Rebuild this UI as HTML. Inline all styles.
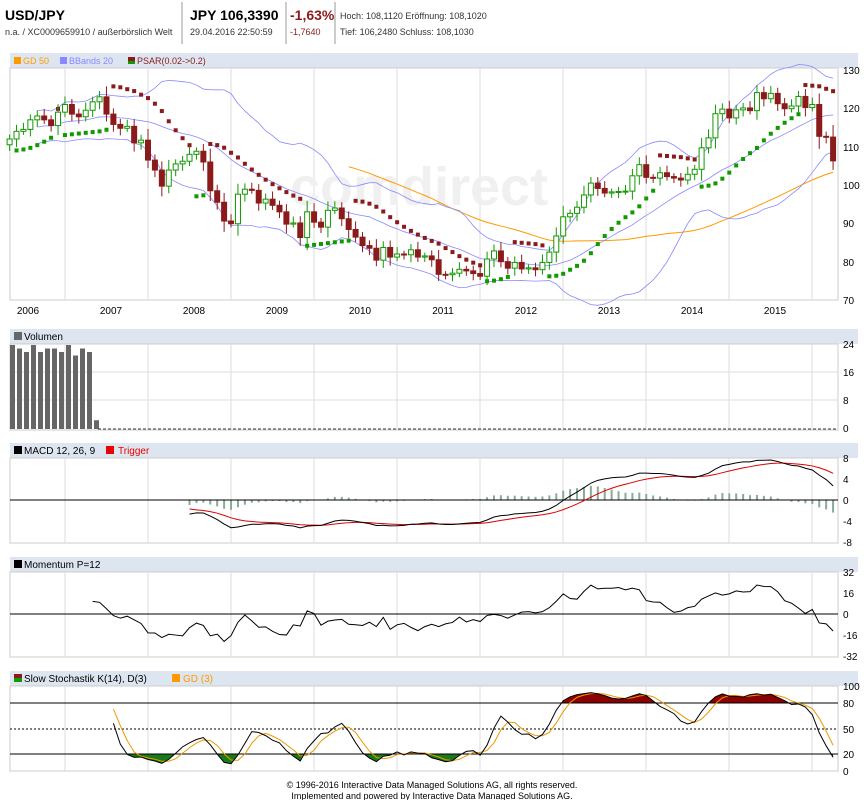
<!DOCTYPE html><html><head><meta charset="utf-8"><style>
body{margin:0;background:#fff;width:864px;height:800px;overflow:hidden;font-family:"Liberation Sans",Arial,sans-serif}
svg text{font-family:"Liberation Sans",Arial,sans-serif}
</style></head><body>
<svg id="s" width="864" height="800" xmlns="http://www.w3.org/2000/svg">
<text x="5" y="20" font-size="14" font-weight="bold" fill="#000">USD/JPY</text>
<text x="5" y="35" font-size="9" fill="#333">n.a. / XC0009659910 / außerbörslich Welt</text>
<line x1="182" y1="2" x2="182" y2="44" stroke="#999"/>
<text x="190" y="20" font-size="14" font-weight="bold" fill="#000">JPY 106,3390</text>
<text x="190" y="35" font-size="9" fill="#333">29.04.2016 22:50:59</text>
<line x1="286" y1="2" x2="286" y2="44" stroke="#999"/>
<text x="290" y="20" font-size="14" font-weight="bold" fill="#8b1a1a">-1,63%</text>
<text x="290" y="35" font-size="9" fill="#8b1a1a">-1,7640</text>
<line x1="335" y1="2" x2="335" y2="44" stroke="#999"/>
<text x="340" y="19" font-size="9" fill="#333">Hoch: 108,1120  Eröffnung: 108,1020</text>
<text x="340" y="35" font-size="9" fill="#333">Tief: 106,2480    Schluss: 108,1030</text>
<g id="g"></g>
<text x="432" y="788" font-size="9" fill="#000" text-anchor="middle">© 1996-2016 Interactive Data Managed Solutions AG, all rights reserved.</text>
<text x="432" y="799" font-size="9" fill="#000" text-anchor="middle">Implemented and powered by Interactive Data Managed Solutions AG.</text>
</svg>
<script>
var C=[112,114,114.5,117,118,117,115.5,119,121,118.5,117.8,119.5,121.7,123,118.5,115.8,114.8,115.3,111,111.7,106.5,103.9,99.7,103.9,105.5,106.2,108,108.8,106,98.5,95.5,90.6,89.9,97.6,98.9,98.6,95.3,96.3,94.7,93,89.8,90.1,86.3,93,90.3,89,93.4,94,91.2,88.4,86.4,84.2,83.5,80.4,83.7,81.2,82,81.8,83.1,81.2,81.5,80.5,76.7,76.6,77,78,77.6,76.9,76.2,80.7,82.8,80,78.3,79.8,78.1,78.4,77.9,79.8,82.5,86.7,91.7,92.6,94.2,97.4,100.5,99.1,97.9,98.2,98.3,98.4,102.4,105.3,102,101.8,103.2,102.2,101.8,101.3,102.8,104.1,109.7,112.3,118.6,119.8,117.5,119.6,120.1,119.4,124.1,122.5,123.9,121.2,119.9,120.6,123.1,120.2,121,112.7,112.5,106.3];
var N=C.length,O=[],H=[],L=[];
for(var i=0;i<N;i++){O[i]=i?C[i-1]:110.5;var r=Math.abs(C[i]-O[i]);H[i]=Math.max(O[i],C[i])+0.8+0.25*r+(i%3)*0.4;L[i]=Math.min(O[i],C[i])-0.8-0.25*r-((i+1)%3)*0.4;}
function X(i){return 9.6+i*6.92;}
var out=[];function a(s){out.push(s);}
function yM(v){return 70+(130-v)*230/60;}
var grid=[65,148,231,314,397,480,563,646,729,812];
function panel(top,hdr,bot,labels){
 a('<rect x="10" y="'+top+'" width="848" height="15" fill="#dde6f0"/>');
 a('<rect x="10" y="'+(top+15)+'" width="828" height="'+(bot-top-15)+'" fill="#fff" stroke="#ccc"/>');
 grid.forEach(function(x){a('<line x1="'+x+'" y1="'+(top+15)+'" x2="'+x+'" y2="'+bot+'" stroke="#ddd"/>');});
 a(hdr);
 labels.forEach(function(l){a('<text x="843" y="'+(l[1]+4)+'" font-size="10" fill="#000">'+l[0]+'</text>');});
}
panel(53,'<rect x="14" y="57" width="7" height="7" fill="#f90"/><text x="23" y="64" font-size="9" fill="#f90">GD 50</text><rect x="60" y="57" width="7" height="7" fill="#88f"/><text x="69" y="64" font-size="9" fill="#88f">BBands 20</text><rect x="128" y="57" width="7" height="4" fill="#8b1a1a"/><rect x="128" y="61" width="7" height="3" fill="#190"/><text x="137" y="64" font-size="9" fill="#8b1a1a">PSAR(0.02-&gt;0.2)</text>',300,[["130",70],["120",108],["110",147],["100",185],["90",223],["80",262],["70",300]]);
a('<text x="290" y="205" font-size="54" font-weight="bold" fill="#f0f0f0">comdirect</text>');
var yrs=["2006","2007","2008","2009","2010","2011","2012","2013","2014","2015"];
yrs.forEach(function(y,k){a('<text x="'+(28+k*83)+'" y="314" font-size="10" text-anchor="middle">'+y+'</text>');});
function sma(arr,n,i){var s=0,c=0;for(var j=Math.max(0,i-n+1);j<=i;j++){s+=arr[j];c++;}return s/c;}
var p=[];for(i=49;i<N;i++)p.push(X(i)+','+yM(sma(C,50,i)));
a('<polyline points="'+p.join(' ')+'" fill="none" stroke="#f90"/>');
var up=[],lo=[],md=[];
for(i=4;i<N;i++){var m=sma(C,20,i),s=0,c=0;for(var j=Math.max(0,i-19);j<=i;j++){s+=(C[j]-m)*(C[j]-m);c++;}var sd=Math.sqrt(s/c);up.push(X(i)+','+yM(m+2*sd));lo.push(X(i)+','+yM(m-2*sd));md.push(X(i)+','+yM(m));}
[up,lo,md].forEach(function(q){a('<polyline points="'+q.join(' ')+'" fill="none" stroke="#88f" stroke-width="0.8"/>');});
var bull=true,af=0.02,ep=H[0],sar=L[0];
for(i=1;i<N;i++){sar=sar+af*(ep-sar);
 if(bull){if(L[i]<sar){bull=false;sar=ep;ep=L[i];af=0.02;}else{if(H[i]>ep){ep=H[i];af=Math.min(0.2,af+0.02);}}}
 else{if(H[i]>sar){bull=true;sar=ep;ep=H[i];af=0.02;}else{if(L[i]<ep){ep=L[i];af=Math.min(0.2,af+0.02);}}}
 a('<rect x="'+(X(i)-2)+'" y="'+(yM(sar)-2)+'" width="4" height="4" fill="'+(bull?'#190':'#8b1a1a')+'"/>');}
for(i=0;i<N;i++){var g=C[i]>=O[i],col=g?'#190':'#8b1a1a';
 a('<line x1="'+X(i)+'" y1="'+yM(H[i])+'" x2="'+X(i)+'" y2="'+yM(L[i])+'" stroke="'+col+'"/>');
 var t=yM(Math.max(O[i],C[i])),b=yM(Math.min(O[i],C[i]));
 a('<rect x="'+(X(i)-2.5)+'" y="'+t+'" width="5" height="'+Math.max(1,b-t)+'" fill="'+(g?'#fff':col)+'" stroke="'+col+'"/>');}
panel(329,'<rect x="14" y="332" width="8" height="8" fill="#666"/><text x="24" y="340" font-size="10" fill="#000">Volumen</text>',430,[["24",344],["16",372],["8",400],["0",428]]);
a('<line x1="10" y1="372" x2="838" y2="372" stroke="#ddd"/><line x1="10" y1="400" x2="838" y2="400" stroke="#ddd"/>');
var V=[24,23,22,24,22,23,23,22,24,21,23,22,2.5];
V.forEach(function(v,k){var x=10+k*7;a('<rect x="'+x+'" y="'+(429-v*3.5)+'" width="5" height="'+(v*3.5)+'" fill="#666"/>');});
a('<line x1="98" y1="429" x2="838" y2="429" stroke="#333" stroke-dasharray="3,2"/>');
panel(443,'<rect x="14" y="446" width="8" height="8" fill="#000"/><text x="24" y="454" font-size="10">MACD 12, 26, 9</text><rect x="106" y="446" width="8" height="8" fill="#e00"/><text x="118" y="454" font-size="10" fill="#e00">Trigger</text>',543,[["8",458],["4",479],["0",500],["-4",521],["-8",542]]);
function ema(arr,n){var k=2/(n+1),r=[arr[0]];for(var j=1;j<arr.length;j++)r[j]=arr[j]*k+r[j-1]*(1-k);return r;}
var e12=ema(C,12),e26=ema(C,26),M=[];for(i=0;i<N;i++)M[i]=e12[i]-e26[i];var S=ema(M,9);
function yD(v){return 500-v*5.25;}
var pm=[],ps=[];for(i=26;i<N;i++){pm.push(X(i)+','+yD(M[i]));ps.push(X(i)+','+yD(S[i]));var h=M[i]-S[i];a('<line x1="'+X(i)+'" y1="500" x2="'+X(i)+'" y2="'+yD(h)+'" stroke="#8a9" stroke-width="2"/>');}
a('<line x1="10" y1="500" x2="838" y2="500" stroke="#000"/>');
a('<polyline points="'+ps.join(' ')+'" fill="none" stroke="#d00"/>');
a('<polyline points="'+pm.join(' ')+'" fill="none" stroke="#000"/>');
panel(557,'<rect x="14" y="560" width="8" height="8" fill="#000"/><text x="24" y="568" font-size="10">Momentum P=12</text>',657,[["32",572],["16",593],["0",614],["-16",635],["-32",656]]);
a('<line x1="10" y1="614" x2="838" y2="614" stroke="#000"/>');
var pq=[];for(i=12;i<N;i++)pq.push(X(i)+','+(614-(C[i]-C[i-12])*1.3));
a('<polyline points="'+pq.join(' ')+'" fill="none" stroke="#000"/>');
panel(671,'<rect x="14" y="674" width="8" height="4" fill="#8b1a1a"/><rect x="14" y="678" width="8" height="4" fill="#190"/><text x="24" y="682" font-size="10">Slow Stochastik K(14), D(3)</text><rect x="172" y="674" width="8" height="8" fill="#f90"/><text x="183" y="682" font-size="10" fill="#f90">GD (3)</text>',771,[["100",686],["80",703],["50",729],["20",754],["0",771]]);
var fk=[];for(i=13;i<N;i++){var hh=-1e9,ll=1e9;for(j=i-13;j<=i;j++){hh=Math.max(hh,H[j]);ll=Math.min(ll,L[j]);}fk.push((C[i]-ll)/(hh-ll)*100);}
var K=[],D=[];for(i=0;i<fk.length;i++){K[i]=sma(fk,3,i);}for(i=0;i<K.length;i++)D[i]=sma(K,3,i);
function yS(v){return 771-v*0.85;}
var pk=[],pd=[];
for(i=2;i<K.length;i++){var x=X(i+13);pk.push(x+','+yS(K[i]));pd.push(x+','+yS(D[i]));}
a('<clipPath id="ca"><rect x="0" y="0" width="864" height="703"/></clipPath><clipPath id="cb"><rect x="0" y="754" width="864" height="30"/></clipPath>');
a('<polygon clip-path="url(#ca)" points="'+X(15)+',703 '+pk.join(' ')+' '+X(N-1)+',703" fill="#8b0000"/>');
a('<polygon clip-path="url(#cb)" points="'+X(15)+',754 '+pk.join(' ')+' '+X(N-1)+',754" fill="#1a7a1a"/>');
a('<line x1="10" y1="703" x2="838" y2="703" stroke="#000"/><line x1="10" y1="754" x2="838" y2="754" stroke="#000"/><line x1="10" y1="729" x2="838" y2="729" stroke="#000" stroke-dasharray="2,2"/>');
a('<polyline points="'+pd.join(' ')+'" fill="none" stroke="#e90"/>');
a('<polyline points="'+pk.join(' ')+'" fill="none" stroke="#000"/>');
document.getElementById('g').innerHTML=out.join('');
</script>
</body></html>
